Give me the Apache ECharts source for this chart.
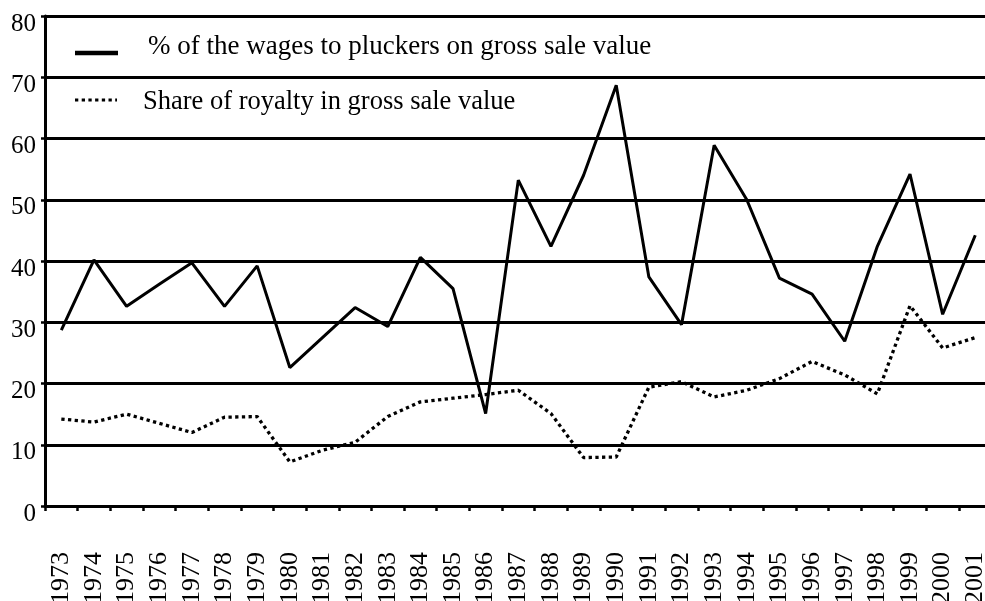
<!DOCTYPE html>
<html>
<head>
<meta charset="utf-8">
<script src="https://cdn.jsdelivr.net/npm/echarts@6/dist/echarts.min.js"></script>
<style>html,body{margin:0;padding:0;background:#fff;}#c{width:985px;height:601px;}</style>
</head>
<body>
<div id="c"></div>
<script>
const years = ['1973','1974','1975','1976','1977','1978','1979','1980','1981','1982','1983','1984','1985','1986','1987','1988','1989','1990','1991','1992','1993','1994','1995','1996','1997','1998','1999','2000','2001'];
const wagesName = '% of the wages to pluckers on gross sale value';
const royaltyName = 'Share of royalty in gross sale value';
const wages = [28.7,40.2,32.6,36.2,39.7,32.6,39.2,22.6,27.5,32.4,29.3,40.6,35.5,15.1,53.2,42.4,54.0,68.7,37.4,29.6,58.9,50.0,37.2,34.6,26.9,42.4,54.2,31.3,44.2];
const royalty = [14.2,13.7,15.0,13.5,12.0,14.5,14.6,7.2,9.1,10.4,14.6,17.0,17.6,18.2,18.9,15.1,7.9,8.0,19.4,20.3,17.8,18.9,20.8,23.6,21.4,18.3,32.7,25.8,27.5];
const yTicks = {min: 0, max: 80, interval: 10};

const font = 'Liberation Serif';
const dotted = [3.3, 3.4];
const chart = echarts.init(document.getElementById('c'), null, {renderer: 'canvas'});
chart.setOption({
  animation: false,
  backgroundColor: '#fff',
  grid: {left: 45, top: 16, width: 946.6, height: 490, containLabel: false, outerBoundsMode: 'none'},
  graphic: [
    {type: 'line', shape: {x1: 75, y1: 53, x2: 118, y2: 53}, style: {stroke: '#000', lineWidth: 4.5}},
    {type: 'text', style: {text: wagesName, x: 148, y: 47, font: '27px "Liberation Serif"', fill: '#000', verticalAlign: 'middle'}},
    {type: 'line', shape: {x1: 75, y1: 100, x2: 117, y2: 100}, style: {stroke: '#000', lineWidth: 3, lineDash: dotted}},
    {type: 'text', style: {text: royaltyName, x: 143, y: 102, font: '26.5px "Liberation Serif"', fill: '#000', verticalAlign: 'middle'}}
  ],
  xAxis: {
    type: 'category', data: years, boundaryGap: true,
    axisLine: {lineStyle: {color: '#000', width: 3}},
    axisTick: {show: true, length: 5, lineStyle: {color: '#000', width: 2.5}},
    axisLabel: {rotate: 90, margin: 46, interval: 0, fontFamily: font, fontSize: 26, color: '#000'},
    splitLine: {show: false}
  },
  yAxis: {
    type: 'value', min: yTicks.min, max: yTicks.max, interval: yTicks.interval,
    axisLine: {show: true, lineStyle: {color: '#000', width: 3}},
    axisTick: {show: true, length: 4, lineStyle: {color: '#000', width: 2.5}},
    axisLabel: {margin: 9, fontFamily: font, fontSize: 25, color: '#000', verticalAlign: 'top', lineHeight: 16},
    splitLine: {show: true, lineStyle: {color: '#000', width: 3}}
  },
  series: [
    {name: wagesName, type: 'line', data: wages, symbol: 'none',
     lineStyle: {color: '#000', width: 3}, itemStyle: {color: '#000'}},
    {name: royaltyName, type: 'line', data: royalty, symbol: 'none',
     lineStyle: {color: '#000', width: 3.3, type: dotted, cap: 'butt'}, itemStyle: {color: '#000'}}
  ]
});
</script>
</body>
</html>
